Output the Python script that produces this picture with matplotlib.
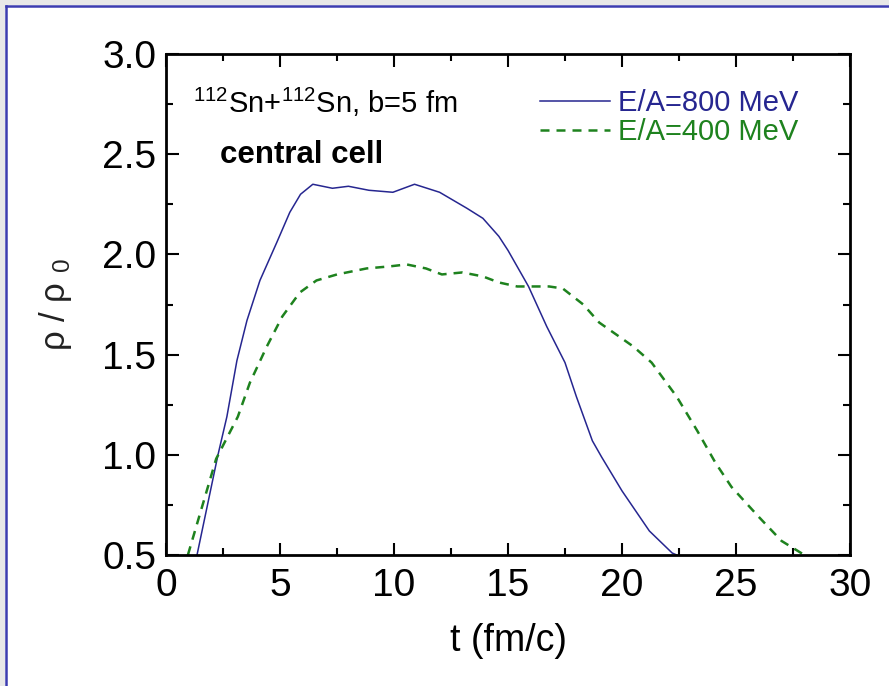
import matplotlib
matplotlib.use("Agg")
import matplotlib.pyplot as plt
from matplotlib.patches import Rectangle
from matplotlib.lines import Line2D
from matplotlib.ticker import MultipleLocator

plt.rcParams['font.family'] = ['Liberation Sans', 'DejaVu Sans']
plt.rcParams['mathtext.fontset'] = 'custom'
plt.rcParams['mathtext.rm'] = 'Liberation Sans'
plt.rcParams['mathtext.it'] = 'Liberation Sans'

# E/A = 800 MeV (solid)
t_800 = [1.36, 2.28, 2.67, 3.11, 3.55, 4.12, 4.86, 5.43, 5.9, 6.44, 7.3, 8.0, 8.9,
         9.95, 10.9, 12.0, 13.2, 13.9, 14.6, 15.0, 15.9, 16.7, 17.5, 18.0, 18.7,
         19.1, 20.0, 21.2, 22.2, 22.4]
rho_800 = [0.5, 1.0, 1.19, 1.47, 1.67, 1.87, 2.06, 2.21, 2.30, 2.35, 2.33, 2.34, 2.32,
           2.31, 2.35, 2.31, 2.23, 2.18, 2.09, 2.02, 1.84, 1.64, 1.46, 1.29, 1.07,
           0.99, 0.82, 0.62, 0.51, 0.5]

# E/A = 400 MeV (dashed)
t_400 = [0.96, 2.2, 3.15, 3.68, 4.42, 5.1, 5.87, 6.6, 7.5, 8.8, 9.8, 10.55, 11.4,
         12.1, 13.0, 13.9, 14.6, 15.4, 16.8, 17.4, 18.3, 19.0, 20.5, 21.3, 22.4,
         23.3, 24.1, 24.8, 26.0, 27.0, 28.0]
rho_400 = [0.5, 0.98, 1.19, 1.36, 1.54, 1.69, 1.81, 1.87, 1.90, 1.93, 1.94, 1.95, 1.93,
           1.90, 1.91, 1.89, 1.86, 1.84, 1.84, 1.83, 1.75, 1.66, 1.54, 1.46, 1.29,
           1.12, 0.96, 0.84, 0.69, 0.57, 0.5]

blue = '#262690'
green = '#1e821e'
W, H = 889, 686

fig = plt.figure(figsize=(W / 100, H / 100), dpi=100, facecolor='white')
# slide frame: grey strip and blue rule along top and left
gray = '#e8e8e8'
fig.patches.append(Rectangle((0, 1 - 5 / H), 1, 5 / H, transform=fig.transFigure,
                             facecolor=gray, edgecolor='none', zorder=-10))
fig.patches.append(Rectangle((0, 0), 5 / W, 1, transform=fig.transFigure,
                             facecolor=gray, edgecolor='none', zorder=-10))
fig.lines.append(Line2D([6 / W, 1], [1 - 6 / H, 1 - 6 / H], transform=fig.transFigure,
                        color='#3c3cb0', lw=1.8))
fig.lines.append(Line2D([6 / W, 6 / W], [0, 1 - 6 / H], transform=fig.transFigure,
                        color='#3c3cb0', lw=1.8))

ax = fig.add_axes([166 / W, 131 / H, 684 / W, 501 / H])
ax.plot(t_800, rho_800, color=blue, lw=1.1, label='E/A=800 MeV')
ax.plot(t_400, rho_400, color=green, lw=1.8, dashes=(3.6, 2.8), label='E/A=400 MeV')

ax.set_xlim(0, 30)
ax.set_ylim(0.5, 3.0)
ax.xaxis.set_major_locator(MultipleLocator(5))
ax.xaxis.set_minor_locator(MultipleLocator(2.5))
ax.yaxis.set_major_locator(MultipleLocator(0.5))
ax.yaxis.set_minor_locator(MultipleLocator(0.25))
ax.tick_params(which='both', direction='in', top=True, right=True, width=1.5)
ax.tick_params(which='major', length=9, labelsize=28)
ax.tick_params(axis='x', which='major', pad=9)
ax.tick_params(axis='y', which='major', pad=7)
ax.tick_params(which='minor', length=5)
for s in ax.spines.values():
    s.set_linewidth(2)

ax.set_xlabel('t (fm/c)', fontsize=27, labelpad=14)
ax.set_ylabel(r'$\rho$ / $\rho$ $_{0}$', fontsize=25, color='#222222', labelpad=20)

ax.text((193 - 166) / 684, (555 - 113) / 501, r'$^{112}$Sn+$^{112}$Sn, b=5 fm',
        transform=ax.transAxes, fontsize=21, ha='left', va='baseline')
ax.text((220 - 166) / 684, (555 - 163) / 501, 'central cell', transform=ax.transAxes,
        fontsize=22.5, fontweight='bold', ha='left', va='baseline')

leg = ax.legend(loc='upper left', bbox_to_anchor=(0.508, 0.982), frameon=False,
                fontsize=21, handlelength=2.4, handletextpad=0.3, labelspacing=0.02)
for txt, c in zip(leg.get_texts(), [blue, green]):
    txt.set_color(c)

fig.savefig('out.png', dpi=100, facecolor=fig.get_facecolor())
